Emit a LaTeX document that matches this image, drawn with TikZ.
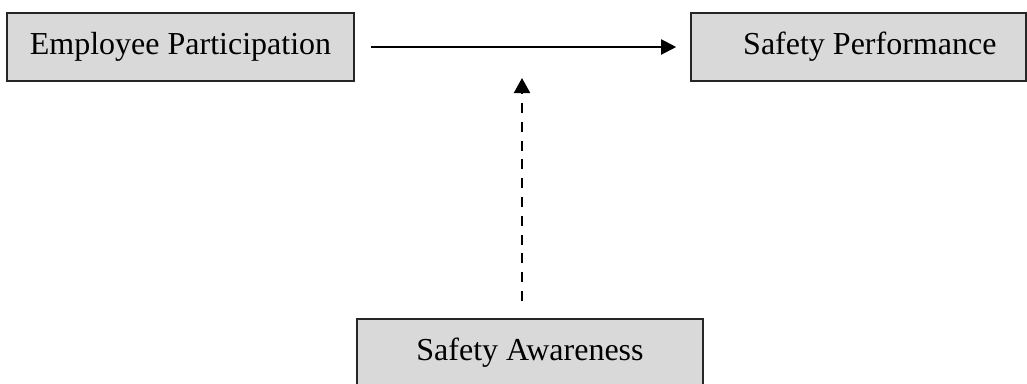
\documentclass[tikz,border=0pt]{standalone}
\usepackage{fontspec}
\setmainfont{Liberation Serif}
\usetikzlibrary{arrows.meta}
\definecolor{boxgray}{HTML}{D9D9D9}
\tikzset{
  box/.style={draw=black!85, line width=1.2pt, fill=boxgray, minimum width=#1, minimum height=51pt, inner sep=0pt, font=\fontsize{24pt}{28pt}\selectfont},
  link/.style={line width=1.5pt, -{Triangle[length=11.25pt,width=11.25pt]}},
  dlink/.style={line width=1.5pt, dash pattern=on 7.5pt off 6.6pt, -{Triangle[length=11.25pt,width=12pt]}}
}
\begin{document}
\begin{tikzpicture}[x=0.75pt,y=-0.75pt]
\useasboundingbox (0,0) rectangle (1027,383);
\node[box=260.25pt] (ep) at (180.5,47) {Employee Participation};
\node[box=251.25pt] (sp) at (858.5,47) {\hspace*{17pt}Safety Performance};
\node[box=259.5pt] (sa) at (530,353) {Safety Awareness};
\coordinate (tip) at (522,78);
\coordinate (tail) at (522,301);
\draw[link, shorten <=12pt, shorten >=10.5pt] (ep.east) -- (sp.west);
\draw[dlink] (tail) -- (tip);
\end{tikzpicture}
\end{document}
